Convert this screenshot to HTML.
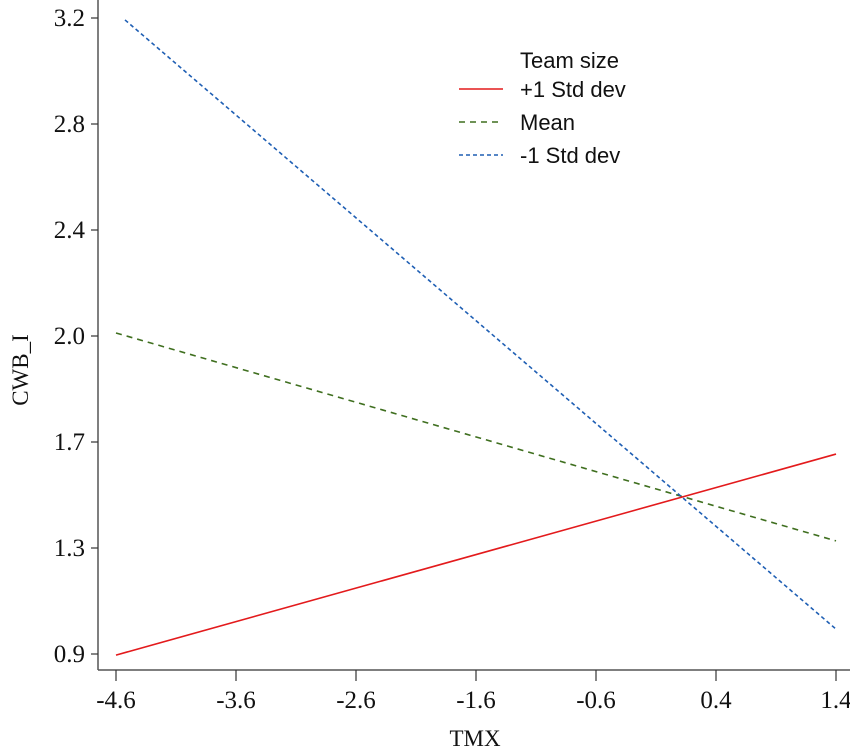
<!DOCTYPE html>
<html><head><meta charset="utf-8"><style>
body{margin:0;background:#fff;}
svg{display:block;font-family:"Liberation Sans",sans-serif;}
</style></head><body>
<svg id="chart" width="850" height="751">
<g id="axes"></g><g id="series"></g>
<g font-size="22" fill="#111">
<text x="520" y="68">Team size</text>
<line x1="459" y1="89" x2="503" y2="89" stroke="#e31a1c" stroke-width="1.6"/>
<text x="520" y="97">+1 Std dev</text>
<line x1="459" y1="122" x2="503" y2="122" stroke="#3f6f1f" stroke-width="1.6" stroke-dasharray="6,5"/>
<text x="520" y="130">Mean</text>
<line x1="459" y1="155" x2="503" y2="155" stroke="#1f5fb4" stroke-width="1.6" stroke-dasharray="4,3"/>
<text x="520" y="163">-1 Std dev</text>
</g>
<text x="475" y="746" text-anchor="middle" font-size="23" fill="#111" font-family="Liberation Serif, serif">TMX</text>
<text transform="translate(28,370) rotate(-90)" text-anchor="middle" font-size="23" fill="#111" font-family="Liberation Serif, serif">CWB_I</text>
</svg>
<script>
const xTicks=[-4.6,-3.6,-2.6,-1.6,-0.6,0.4,1.4];
const xTickLabels=["-4.6","-3.6","-2.6","-1.6","-0.6","0.4","1.4"];
const yTickLabels=["0.9","1.3","1.7","2.0","2.4","2.8","3.2"];
const yMin=0.9, yMax=3.2;
const plusX=[-4.6,1.4], plusY=[0.896,1.623];
const meanX=[-4.6,1.4], meanY=[2.061,1.309];
const minusX=[-4.525,1.4], minusY=[3.193,0.99];
const NS="http://www.w3.org/2000/svg";
const sx=v=>116+(v+4.6)*120;
const sy=v=>654-(v-yMin)*(636/(yMax-yMin));
function mk(tag,attrs,parent){const e=document.createElementNS(NS,tag);for(const k in attrs)e.setAttribute(k,attrs[k]);parent.appendChild(e);return e;}
const ax=document.getElementById('axes');
let l=mk('line',{x1:98,y1:0,x2:98,y2:670,stroke:'#555','stroke-width':1.5},ax);


l=mk('line',{x1:98,y1:670,x2:850,y2:670,stroke:'#555','stroke-width':1.5},ax);


xTicks.forEach((v,i)=>{
 const t=mk('line',{x1:sx(v),y1:670,x2:sx(v),y2:681,stroke:'#333','stroke-width':1.2},ax);
 
 
 const tx=mk('text',{x:sx(v),y:708,'text-anchor':'middle','font-size':25,fill:'#111','font-family':'Liberation Serif, serif'},ax);
 tx.textContent=xTickLabels[i];
 
 
});
yTickLabels.forEach((lab,i)=>{
 const v=yMin+i*(yMax-yMin)/(yTickLabels.length-1);
 const t=mk('line',{x1:91,y1:sy(v),x2:98,y2:sy(v),stroke:'#333','stroke-width':1.2},ax);
 
 
 const tx=mk('text',{x:85,y:sy(v)+8,'text-anchor':'end','font-size':25,fill:'#111','font-family':'Liberation Serif, serif'},ax);
 tx.textContent=lab;
 
 
});
const sg=document.getElementById('series');
function line(xs,ys,color,dash,name){
 const p=mk('polyline',{points:xs.map((x,i)=>sx(x)+','+sy(ys[i])).join(' '),fill:'none',stroke:color,'stroke-width':1.6},sg);
 if(dash)p.setAttribute('stroke-dasharray',dash);
 
 
}
line(meanX,meanY,'#3f6f1f','6,5','series-mean');
line(minusX,minusY,'#1f5fb4','4,3','series-minus1-sd');
line(plusX,plusY,'#e31a1c',null,'series-plus1-sd');
</script>
</body></html>
